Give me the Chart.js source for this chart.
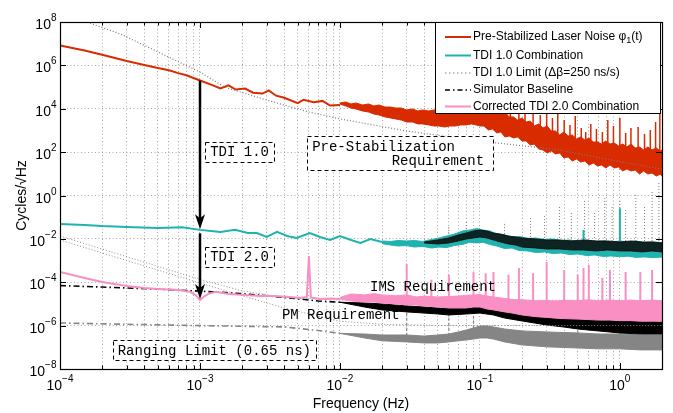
<!DOCTYPE html>
<html>
<head>
<meta charset="utf-8">
<title>Laser noise suppression</title>
<script src="https://cdn.jsdelivr.net/npm/chart.js@4.4.1/dist/chart.umd.min.js"></script>
<style>
  html, body { margin: 0; padding: 0; background: #fff; }
  canvas { display: block; }
</style>
</head>
<body>
<canvas id="noise" width="673" height="413"></canvas>
<script>
// Frequencies in Hz, amplitudes in cycles/sqrt(Hz)

// pre-stabilized laser noise: smooth low-frequency part, then the noisy band
const laserFreq = [1e-4, 1.5e-4, 2e-4, 3e-4, 4e-4, 5e-4, 6e-4, 7e-4, 8e-4, 1e-3, 1.2e-3, 1.4e-3, 1.6e-3, 1.8e-3, 2.1e-3, 2.4e-3, 2.8e-3, 3.1e-3, 3.5e-3, 4e-3, 5e-3, 5.5e-3, 6.5e-3, 7.5e-3, 8.5e-3, 1e-2];
const laserAmp = [8.2e6, 4.8e6, 3.1e6, 1.6e6, 1.05e6, 7.5e5, 6.0e5, 4.4e5, 3.5e5, 2.0e5, 1.3e5, 8.6e4, 1.2e5, 7.7e4, 8.5e4, 5.5e4, 5.0e4, 7.0e4, 4.0e4, 3.2e4, 1.8e4, 2.6e4, 2.0e4, 2.3e4, 1.4e4, 1.5e4];
const laserBandFreq = [1e-2, 1.1e-2, 1.2e-2, 1.3e-2, 1.45e-2, 1.6e-2, 1.75e-2, 1.9e-2, 2.1e-2, 2.3e-2, 2.5e-2, 2.75e-2, 3e-2, 3.3e-2, 3.6e-2, 3.9e-2, 4.3e-2, 4.7e-2, 5.1e-2, 5.6e-2, 6.1e-2, 6.7e-2, 7.3e-2, 8e-2, 8.7e-2, 9.4e-2,
  0.1, 0.107, 0.115, 0.123, 0.132, 0.141, 0.151, 0.162, 0.174, 0.186, 0.2, 0.214, 0.229, 0.245, 0.263, 0.282, 0.302, 0.324, 0.347, 0.372, 0.398, 0.427, 0.457, 0.49, 0.525, 0.562, 0.603, 0.646, 0.692, 0.741, 0.794, 0.851, 0.912, 0.977, 1.047, 1.122, 1.202, 1.288, 1.38, 1.479, 1.585, 1.698, 1.82, 1.95, 2.0];
const laserBandHigh = [1.85e4, 2.05e4, 1.66e4, 1.85e4, 1.49e4, 1.66e4, 1.34e4, 1.49e4, 1.2e4, 1.2e4, 1.08e4, 1.08e4, 8.8e3, 9.8e3, 7.9e3, 8.8e3, 7.9e3, 8.8e3, 8.8e3, 9.8e3, 1.08e4, 1.2e4, 1.34e4, 1.49e4, 1.49e4, 1.66e4,
  1.66e4, 1.2e4, 1.2e4, 7.9e3, 8.8e3, 5.7e3, 7.1e3, 4.2e3, 4.2e3, 3.0e3, 3.75e3, 2.45e3, 2.7e3, 1.6e3, 2.0e3, 1.3e3, 1.6e3, 944, 944, 617, 850, 555, 617, 404, 499, 363, 449, 294, 294, 237, 327, 237, 264, 192, 237, 173, 237, 155, 173, 126, 173, 126, 155, 113, 126];
const laserBandLow = [1.66e4, 1.34e4, 1.08e4, 9.8e3, 7.9e3, 7.1e3, 5.7e3, 5.2e3, 4.2e3, 3.75e3, 3.4e3, 3.0e3, 2.45e3, 2.45e3, 2.0e3, 2.0e3, 1.8e3, 1.6e3, 1.6e3, 1.44e3, 1.6e3, 1.6e3, 1.8e3, 1.8e3, 2.0e3, 1.8e3,
  1.6e3, 1.6e3, 1.05e3, 1.17e3, 762, 850, 499, 555, 449, 499, 327, 327, 213, 237, 140, 126, 91, 113, 82, 91, 54, 60, 39, 48, 35, 39, 25.5, 31.5, 23, 25.5, 18.6, 25.5, 18.6, 20.7, 13.5, 16.7, 13.5, 15.0, 9.8, 13.5, 9.8, 10.9, 7.9, 9.8, 7.9];
const laserSpikeFreq = [0.145, 0.165, 0.19, 0.21, 0.24, 0.27, 0.3, 0.33, 0.36, 0.4, 0.44, 0.48, 0.53, 0.57, 0.62, 0.68, 0.75, 0.82, 0.9, 1.0, 1.1, 1.2, 1.35, 1.5, 1.65, 1.8, 1.93];
const laserSpikeTop = [1.08e4, 7.1e3, 1.66e4, 6.4e3, 8.8e3, 5.2e3, 1.08e4, 3.75e3, 7.1e3, 3.0e3, 1.8e3, 4.6e3, 1.3e3, 850, 2.0e3, 1.17e3, 850, 3.0e3, 1.6e3, 3.75e3, 762, 1.3e3, 1.44e3, 686, 1.05e3, 2.45e3, 1.2e4];
const laserSpikeBase = [2e3, 1.5e3, 1e3, 800, 600, 500, 400, 300, 250, 200, 170, 150, 120, 100, 90, 80, 70, 60, 55, 50, 45, 40, 35, 30, 28, 25, 22];

// pre-stabilization requirement (dotted)
const prestabFreq = [1.3e-4, 2.7e-4, 5e-4, 1e-3, 1.5e-3, 3e-3, 6e-3, 1e-2, 3e-2, 0.1, 0.37, 1, 2];
const prestabAmp = [1.5e8, 2.8e7, 4.2e6, 4.9e5, 1.0e5, 2.5e4, 7.1e3, 3.4e3, 940, 325, 126, 36, 16.6];

// TDI 1.0 combination
const tdi1Freq = [1e-4, 1.5e-4, 2e-4, 3e-4, 5e-4, 7.5e-4, 1e-3, 1.2e-3, 1.4e-3, 1.78e-3, 2.2e-3, 2.55e-3, 3e-3, 3.55e-3, 4.2e-3, 4.9e-3, 6.1e-3, 7.2e-3, 8.5e-3, 1e-2, 1.2e-2, 1.4e-2, 1.65e-2, 2e-2];
const tdi1Amp = [4.9e-2, 4.4e-2, 3.9e-2, 3.5e-2, 3.2e-2, 3.4e-2, 2.6e-2, 2.3e-2, 2.1e-2, 2.6e-2, 1.87e-2, 1.87e-2, 1.22e-2, 2.1e-2, 1.36e-2, 1.1e-2, 1.87e-2, 1.22e-2, 8.9e-3, 1.36e-2, 8.9e-3, 6.5e-3, 9.9e-3, 7.2e-3];
const tdi1BandFreq = [2e-2, 2.3e-2, 2.6e-2, 3e-2, 3.4e-2, 3.9e-2, 4.5e-2, 5.1e-2, 5.8e-2, 6.6e-2, 7.5e-2, 8.5e-2, 9.5e-2, 0.105, 0.118, 0.132, 0.15, 0.17, 0.19, 0.22, 0.25, 0.29, 0.33, 0.38, 0.44, 0.5, 0.58, 0.66, 0.76, 0.87, 1.0, 1.15, 1.3, 1.5, 1.72, 2.0];
const tdi1BandHigh = [8.0e-3, 7.6e-3, 8.4e-3, 8.0e-3, 8.4e-3, 7.6e-3, 9.4e-3, 1.1e-2, 1.36e-2, 1.68e-2, 2.31e-2, 2.57e-2, 3.0e-2, 2.57e-2, 2.31e-2, 1.68e-2, 1.51e-2, 1.22e-2, 1.3e-2, 1.05e-2, 1.1e-2, 9.4e-3, 9.9e-3, 8.4e-3, 8.9e-3, 7.6e-3, 8.9e-3, 7.6e-3, 8.0e-3, 7.2e-3, 8.0e-3, 7.2e-3, 8.0e-3, 6.8e-3, 7.2e-3, 6.8e-3];
const tdi1BandLow = [6.0e-3, 5.2e-3, 4.7e-3, 4.9e-3, 4.2e-3, 4.5e-3, 3.8e-3, 4.2e-3, 4.0e-3, 5.0e-3, 5.5e-3, 7.0e-3, 6.5e-3, 7.0e-3, 5.5e-3, 4.7e-3, 3.6e-3, 3.8e-3, 2.9e-3, 2.77e-3, 2.35e-3, 2.49e-3, 2.1e-3, 2.24e-3, 1.9e-3, 2.0e-3, 1.7e-3, 1.81e-3, 1.55e-3, 1.63e-3, 1.5e-3, 1.6e-3, 1.4e-3, 1.47e-3, 1.37e-3, 1.45e-3];
const tdi1SpikeFreq = [0.55, 1.0];
const tdi1SpikeTop = [2.6e-2, 0.26];
const tdi1SpikeBase = [4e-3, 4e-3];

// TDI 1.0 limit for a 250 ns/s arm-length rate mismatch
const limitBandFreq = [4e-2, 5e-2, 6e-2, 7e-2, 8e-2, 9e-2, 0.1, 0.112, 0.125, 0.14, 0.16, 0.18, 0.2, 0.25, 0.3, 0.37, 0.45, 0.55, 0.68, 0.82, 1.0, 1.2, 1.45, 1.7, 2.0];
const limitBandHigh = [7.2e-3, 8.9e-3, 1.1e-2, 1.51e-2, 1.87e-2, 2.31e-2, 2.57e-2, 2.31e-2, 1.87e-2, 1.68e-2, 1.36e-2, 1.22e-2, 1.1e-2, 9.9e-3, 8.9e-3, 8.9e-3, 8.0e-3, 8.9e-3, 8.0e-3, 8.0e-3, 7.2e-3, 8.0e-3, 7.2e-3, 7.2e-3, 6.5e-3];
const limitBandLow = [6.5e-3, 5.8e-3, 6.5e-3, 8.0e-3, 9.9e-3, 1.1e-2, 1.22e-2, 1.1e-2, 8.9e-3, 7.2e-3, 5.8e-3, 5.2e-3, 4.2e-3, 3.8e-3, 3.42e-3, 3.42e-3, 3.08e-3, 3.08e-3, 2.77e-3, 3.08e-3, 2.77e-3, 2.77e-3, 2.49e-3, 2.77e-3, 2.49e-3];
const limitSpikeFreq = [6e-2, 8e-2, 0.15, 0.23, 0.29, 0.37, 0.45, 0.56, 0.66, 0.78, 0.88, 1.0, 1.1, 1.3, 1.5, 1.7, 1.9];
const limitSpikeTop = [4.4e-2, 7.4e-2, 6.0e-2, 9.2e-2, 0.126, 0.37, 0.17, 0.62, 0.17, 0.77, 0.37, 0.62, 0.21, 1.06, 0.37, 1.8, 3.8];
const limitSpikeBase = [1.2e-2, 1.5e-2, 1.2e-2, 9e-3, 8e-3, 8e-3, 8e-3, 8e-3, 8e-3, 8e-3, 8e-3, 8e-3, 8e-3, 8e-3, 8e-3, 8e-3, 8e-3];

// IMS and proof-mass requirements (dotted)
const imsFreq = [1e-4, 3e-4, 1e-3, 2e-3, 4e-3, 1e-2, 2];
const imsAmp = [1.36e-2, 1.5e-3, 1.35e-4, 4e-5, 2e-5, 1.5e-5, 1.45e-5];
const pmFreq = [1e-4, 3e-4, 1e-3, 2e-3, 4e-3, 1e-2, 2e-2, 5e-2, 2];
const pmAmp = [8.9e-3, 1.0e-3, 9.3e-5, 2.4e-5, 6.5e-6, 1.6e-6, 1.15e-6, 1.02e-6, 1.0e-6];

// corrected TDI 2.0 combination
const tdi2Freq = [1e-4, 1.5e-4, 2e-4, 3e-4, 4e-4, 5e-4, 7e-4, 8.5e-4, 9.3e-4, 1e-3, 1.07e-3, 1.15e-3, 1.3e-3, 1.6e-3, 2.1e-3, 2.7e-3, 3.4e-3, 4.4e-3, 5.2e-3, 5.8e-3, 6.0e-3, 6.2e-3, 7.2e-3, 8.5e-3, 1e-2];
const tdi2Amp = [3.0e-4, 1.57e-4, 1.03e-4, 6.7e-5, 5.4e-5, 4.9e-5, 4.4e-5, 3.6e-5, 2.6e-5, 1.5e-5, 2.2e-5, 2.9e-5, 3.6e-5, 2.9e-5, 2.6e-5, 2.3e-5, 2.3e-5, 2.1e-5, 1.9e-5, 2.1e-5, 1.63e-3, 2.0e-5, 1.7e-5, 1.8e-5, 1.7e-5];
const tdi2BandFreq = [1e-2, 1.2e-2, 1.5e-2, 1.75e-2, 2e-2, 2.5e-2, 3e-2, 3.5e-2, 4e-2, 5e-2, 6e-2, 7e-2, 8e-2, 9e-2, 0.1, 0.112, 0.125, 0.15, 0.17, 0.2, 0.25, 0.3, 0.35, 0.4, 0.5, 0.6, 0.7, 0.85, 1.0, 1.2, 1.4, 1.7, 2.0];
const tdi2BandHigh = [2.0e-5, 2.9e-5, 2.6e-5, 3.0e-5, 2.6e-5, 2.4e-5, 2.6e-5, 2.1e-5, 2.3e-5, 2.1e-5, 2.2e-5, 2.3e-5, 2.5e-5, 2.6e-5, 2.7e-5, 2.3e-5, 2.1e-5, 1.8e-5, 1.6e-5, 1.55e-5, 1.4e-5, 1.45e-5, 1.35e-5, 1.5e-5, 1.4e-5, 1.55e-5, 1.4e-5, 1.5e-5, 1.4e-5, 1.5e-5, 1.4e-5, 1.5e-5, 1.4e-5];
const tdi2BandLow = [1.7e-5, 1.37e-5, 1.23e-5, 1.23e-5, 1.11e-5, 1.0e-5, 9.0e-6, 9.0e-6, 8.1e-6, 7.2e-6, 6.5e-6, 6.5e-6, 6.5e-6, 7.2e-6, 7.2e-6, 5.9e-6, 5.3e-6, 4.3e-6, 3.8e-6, 3.1e-6, 2.6e-6, 2.4e-6, 2.2e-6, 2.1e-6, 2.0e-6, 1.9e-6, 1.8e-6, 1.8e-6, 1.7e-6, 1.7e-6, 1.6e-6, 1.6e-6, 1.6e-6];
const tdi2SpikeFreq = [3e-2, 4.5e-2, 6e-2, 9e-2, 0.11, 0.125, 0.16, 0.19, 0.24, 0.3, 0.4, 0.5, 0.55, 0.6, 0.75, 0.85, 1.1, 1.4, 1.7];
const tdi2SpikeTop = [7.0e-4, 1.3e-4, 2.2e-4, 3.0e-4, 2.6e-4, 3.0e-4, 2.2e-4, 4.6e-4, 2.6e-4, 8.6e-4, 3.7e-4, 2.2e-4, 4.6e-4, 6.3e-4, 1.6e-4, 3.7e-4, 3.0e-4, 3.0e-4, 3.7e-4];
const tdi2SpikeBase = [1.5e-5, 1.5e-5, 1.5e-5, 1.5e-5, 1.5e-5, 1.5e-5, 1.2e-5, 1.2e-5, 1e-5, 1e-5, 1e-5, 1e-5, 1e-5, 1e-5, 1e-5, 1e-5, 1e-5, 1e-5, 1e-5];

// simulator baseline (black dash-dot)
const baseFreq = [1e-4, 2e-4, 5e-4, 1e-3, 2e-3, 4e-3, 7e-3, 1e-2];
const baseAmp = [7.0e-5, 6.0e-5, 4.8e-5, 3.9e-5, 3.0e-5, 2.0e-5, 1.37e-5, 1.2e-5];
const baseBandFreq = [1e-2, 1.5e-2, 2e-2, 3e-2, 4e-2, 5e-2, 6e-2, 8e-2, 0.1, 0.125, 0.15, 0.2, 0.3, 0.4, 0.5, 0.7, 1.0, 1.4, 2.0];
const baseBandHigh = [1.2e-5, 1.11e-5, 1.0e-5, 8.1e-6, 7.2e-6, 6.5e-6, 6.5e-6, 7.2e-6, 8.1e-6, 7.2e-6, 5.9e-6, 4.3e-6, 3.1e-6, 2.5e-6, 2.25e-6, 1.82e-6, 1.64e-6, 1.64e-6, 1.48e-6];
const baseBandLow = [1.2e-5, 7.2e-6, 5.3e-6, 4.3e-6, 3.8e-6, 3.45e-6, 3.1e-6, 3.45e-6, 3.8e-6, 3.1e-6, 2.25e-6, 1.64e-6, 1.07e-6, 8.6e-7, 7.0e-7, 5.7e-7, 4.6e-7, 4.1e-7, 4.1e-7];

// ranging limit, 0.65 ns (grey dash-dot)
const rangeFreq = [1e-4, 3e-4, 1e-3, 4e-3, 7e-3, 1e-2];
const rangeAmp = [1.33e-6, 1.15e-6, 1.0e-6, 8.7e-7, 6.0e-7, 4.4e-7];
const rangeBandFreq = [1e-2, 1.5e-2, 2e-2, 3e-2, 4e-2, 5e-2, 6e-2, 7e-2, 8e-2, 9e-2, 0.1, 0.112, 0.125, 0.15, 0.2, 0.3, 0.5, 0.7, 1.0, 1.4, 2.0];
const rangeBandHigh = [4.4e-7, 4.1e-7, 3.7e-7, 3.7e-7, 3.3e-7, 3.7e-7, 4.1e-7, 5.1e-7, 6.3e-7, 7.8e-7, 9.6e-7, 9.6e-7, 8.7e-7, 7.0e-7, 5.7e-7, 5.1e-7, 4.6e-7, 4.1e-7, 4.1e-7, 3.7e-7, 3.7e-7];
const rangeBandLow = [4.4e-7, 2.7e-7, 2.0e-7, 1.77e-7, 1.59e-7, 1.59e-7, 1.77e-7, 2.0e-7, 2.2e-7, 2.4e-7, 2.7e-7, 2.7e-7, 2.4e-7, 1.77e-7, 1.29e-7, 1.05e-7, 9.3e-8, 8.5e-8, 8.5e-8, 7.6e-8, 7.6e-8];
const rangeSpikeFreq = [3e-2, 6e-2, 9e-2, 0.5, 1.0];
const rangeSpikeTop = [2.3e-5, 3.1e-6, 5.3e-6, 9e-6, 1.5e-5];
const rangeSpikeBase = [2e-7, 2e-7, 2.5e-7, 1.5e-7, 1.2e-7];

// axis decades and their exponent labels
const xDecades = [1e-4, 1e-3, 1e-2, 1e-1, 1];
const xExpLabels = ['\u22124', '\u22123', '\u22122', '\u22121', '0'];
const yDecades = [1e-8, 1e-6, 1e-4, 1e-2, 1, 1e2, 1e4, 1e6, 1e8];
const yExpLabels = ['\u22128', '\u22126', '\u22124', '\u22122', '0', '2', '4', '6', '8'];

const SANS = '"Liberation Sans", Arial, Helvetica, sans-serif';
const MONO = '"Liberation Mono", "Courier New", monospace';

const RED = '#d92b00';
const TEAL = '#1fb3b0';
const PINK = '#f98fc3';
const GREY = '#858585';
const DOT = '#8c8c8c';

const xy = (fs, vs) => fs.map((f, i) => ({ x: f, y: vs[i] }));
// one vertical segment per spike, broken with null points
const spikes = (fs, lo, hi) => fs.flatMap((f, i) => [{ x: f, y: lo[i] }, { x: f, y: hi[i] }, { x: f, y: null }]);

function line(data, color, width, dash, order, extra) {
  return Object.assign({
    data, borderColor: color, backgroundColor: color, borderWidth: width,
    borderDash: dash || [], pointRadius: 0, fill: false, tension: 0,
    spanGaps: false, order
  }, extra || {});
}

const datasets = [];
// band = upper edge + lower edge filled back to the upper one
function band(fs, hi, lo, color, order, extra) {
  datasets.push(line(xy(fs, hi), color, 1, [], order, extra));
  datasets.push(line(xy(fs, lo), color, 1, [], order, { fill: '-1' }));
}

// ranging limit
datasets.push(line(xy(rangeFreq, rangeAmp), GREY, 1.6, [6, 3, 1.5, 3], 90));
band(rangeBandFreq, rangeBandHigh, rangeBandLow, GREY, 90);
datasets.push(line(spikes(rangeSpikeFreq, rangeSpikeBase, rangeSpikeTop), GREY, 1.2, [3, 2], 90));

// simulator baseline
datasets.push(line(xy(baseFreq, baseAmp), '#000', 1.6, [6, 3, 1.5, 3], 80,
  { label: 'Simulator Baseline', legendDash: [5, 3, 1.5, 3], legendRank: 3 }));
band(baseBandFreq, baseBandHigh, baseBandLow, '#000', 80);

// requirements
datasets.push(line(xy(imsFreq, imsAmp), DOT, 1, [1, 2], 75));
datasets.push(line(xy(pmFreq, pmAmp), DOT, 1, [1, 2], 75));

// corrected TDI 2.0
datasets.push(line(xy(tdi2Freq, tdi2Amp), PINK, 2, [], 70,
  { label: 'Corrected TDI 2.0 Combination', legendRank: 4 }));
band(tdi2BandFreq, tdi2BandHigh, tdi2BandLow, PINK, 70);
datasets.push(line(spikes(tdi2SpikeFreq, tdi2SpikeBase, tdi2SpikeTop), PINK, 2, [], 70));

// TDI 1.0
datasets.push(line(xy(tdi1Freq, tdi1Amp), TEAL, 2, [], 60,
  { label: 'TDI 1.0 Combination', legendRank: 1 }));
band(tdi1BandFreq, tdi1BandHigh, tdi1BandLow, TEAL, 60);
datasets.push(line(spikes(tdi1SpikeFreq, tdi1SpikeBase, tdi1SpikeTop), TEAL, 2, [], 60));

// TDI 1.0 limit
band(limitBandFreq, limitBandHigh, limitBandLow, 'rgba(10,10,10,0.85)', 50,
  { label: 'TDI 1.0 Limit (\u0394\u03b2=250 ns/s)', legendRank: 2, legendColor: '#aaa', legendDash: [1.5, 2.5] });
datasets.push(line(spikes(limitSpikeFreq, limitSpikeBase, limitSpikeTop), '#777', 1, [1, 2], 50));

// laser noise
datasets.push(line(xy(laserFreq, laserAmp), RED, 2, [], 40,
  { label: 'Pre-Stabilized Laser Noise \u03c6', legendRank: 0 }));
band(laserBandFreq, laserBandHigh, laserBandLow, RED, 40);
datasets.push(line(spikes(laserSpikeFreq, laserSpikeBase, laserSpikeTop), RED, 1.5, [], 40));

// pre-stabilization requirement
datasets.push(line(xy(prestabFreq, prestabAmp), '#7a7a7a', 1.2, [1, 2], 30));

// text boxes, anchored in data coordinates (left edge, vertical centre)
const notes = [
  { lines: ['TDI 1.0'], f: 1.09e-3, v: 105, box: true },
  { lines: ['TDI 2.0'], f: 1.09e-3, v: 1.5e-3, box: true },
  { lines: ['Pre-Stabilization', 'Requirement'], f: 5.83e-3, v: 91, box: true, rightSecond: true },
  { lines: ['IMS Requirement'], f: 1.64e-2, v: 5.9e-5, box: false },
  { lines: ['PM Requirement'], f: 3.85e-3, v: 3.1e-6, box: false },
  { lines: ['Ranging Limit (0.65 ns)'], f: 2.38e-4, v: 7.5e-8, box: true }
];
// arrows at 1 mHz: laser noise -> TDI 1.0 -> TDI 2.0
const arrowFreq = 1e-3;
const arrowFrom = [2.0e5, 1.8e-2];
const arrowTo = [2.8e-2, 1.7e-5];

const minorSteps = [2, 3, 4, 5, 6, 7, 8, 9];
const xGrid = [];
xDecades.forEach(d => {
  xGrid.push(d);
  minorSteps.forEach(m => { if (d * m <= 2.0001) xGrid.push(d * m); });
});

function drawPow(ctx, exp, x, y, align) {
  ctx.font = '14px ' + SANS;
  const wBase = ctx.measureText('10').width;
  ctx.font = '10px ' + SANS;
  const wExp = ctx.measureText(exp).width;
  const left = align === 'center' ? x - (wBase + wExp) / 2 : x - wBase - wExp;
  ctx.textAlign = 'left';
  ctx.textBaseline = 'alphabetic';
  ctx.font = '14px ' + SANS;
  ctx.fillText('10', left, y);
  ctx.font = '10px ' + SANS;
  ctx.fillText(exp, left + wBase, y - 8);
}

const decor = {
  id: 'decor',
  afterDraw(chart) {
    const { ctx, chartArea: a, scales: { x, y } } = chart;
    ctx.save();
    ctx.fillStyle = '#000';
    ctx.strokeStyle = '#000';

    // inward ticks
    ctx.lineWidth = 1;
    ctx.beginPath();
    xGrid.forEach(v => {
      const px = Math.round(x.getPixelForValue(v)) + 0.5;
      const len = xDecades.includes(v) ? 6 : 3.5;
      ctx.moveTo(px, a.bottom); ctx.lineTo(px, a.bottom - len);
      ctx.moveTo(px, a.top); ctx.lineTo(px, a.top + len);
    });
    yDecades.forEach(v => {
      const py = Math.round(y.getPixelForValue(v)) + 0.5;
      ctx.moveTo(a.left, py); ctx.lineTo(a.left + 6, py);
      ctx.moveTo(a.right, py); ctx.lineTo(a.right - 6, py);
    });
    ctx.stroke();

    // frame
    ctx.lineWidth = 1.2;
    ctx.strokeRect(Math.round(a.left) + 0.5, Math.round(a.top) + 0.5,
      Math.round(a.right - a.left), Math.round(a.bottom - a.top));

    // tick labels
    xDecades.forEach((v, i) => drawPow(ctx, xExpLabels[i], x.getPixelForValue(v), a.bottom + 21, 'center'));
    yDecades.forEach((v, i) => drawPow(ctx, yExpLabels[i], a.left - 3.5, y.getPixelForValue(v) + 7, 'right'));

    // axis titles
    ctx.font = '14px ' + SANS;
    ctx.textAlign = 'center';
    ctx.textBaseline = 'alphabetic';
    ctx.fillText('Frequency (Hz)', (a.left + a.right) / 2, a.bottom + 39);
    ctx.save();
    ctx.translate(26, (a.top + a.bottom) / 2);
    ctx.rotate(-Math.PI / 2);
    ctx.fillText('Cycles/\u221aHz', 0, 0);
    ctx.restore();

    // arrows
    ctx.lineWidth = 2.5;
    const ax = Math.round(x.getPixelForValue(arrowFreq));
    arrowFrom.forEach((v, i) => {
      const y0 = y.getPixelForValue(v);
      const y1 = y.getPixelForValue(arrowTo[i]);
      ctx.beginPath(); ctx.moveTo(ax, y0); ctx.lineTo(ax, y1 - 10); ctx.stroke();
      ctx.beginPath();
      ctx.moveTo(ax - 5, y1 - 15); ctx.lineTo(ax, y1); ctx.lineTo(ax + 5, y1 - 15);
      ctx.lineTo(ax, y1 - 11); ctx.closePath(); ctx.fill();
    });

    // text notes
    ctx.font = '14px ' + MONO;
    ctx.textBaseline = 'middle';
    notes.forEach(n => {
      const lx = x.getPixelForValue(n.f);
      const cy = y.getPixelForValue(n.v);
      const widths = n.lines.map(s => ctx.measureText(s).width);
      const w = Math.max(...widths);
      const lh = 14;
      const top = cy - (n.lines.length * lh) / 2;
      if (n.box) {
        const bx = Math.round(lx) + 0.5, by = Math.round(top - 3) + 0.5;
        const bw = Math.round(w + 10 + (n.rightSecond ? 33 : 0));
        const bh = Math.round(n.lines.length * lh + 6);
        ctx.fillStyle = '#fff';
        ctx.fillRect(bx, by, bw, bh);
        ctx.setLineDash([4, 3]);
        ctx.lineWidth = 1;
        ctx.strokeRect(bx, by, bw, bh);
        ctx.setLineDash([]);
        ctx.fillStyle = '#000';
        n.lines.forEach((s, i) => {
          ctx.textAlign = 'left';
          let tx = lx + 5;
          if (n.rightSecond && i === 1) tx = lx + bw - 9 - widths[i];
          ctx.fillText(s, tx, top + lh * i + lh / 2 + 1);
        });
      } else {
        ctx.fillStyle = '#000';
        ctx.textAlign = 'left';
        ctx.fillText(n.lines[0], lx, cy);
      }
    });

    // legend
    const items = chart.data.datasets.filter(d => d.label).sort((p, q) => p.legendRank - q.legendRank);
    const lx0 = 435.5, ly0 = a.top + 0.5, lw = 225, lh0 = 91;
    ctx.fillStyle = '#fff';
    ctx.fillRect(lx0, ly0, lw, lh0);
    ctx.lineWidth = 1;
    ctx.strokeStyle = '#000';
    ctx.strokeRect(lx0, ly0, lw, lh0);
    const rows = [37, 55.5, 73, 90, 106.5];
    items.forEach((d, i) => {
      const ry = rows[i];
      ctx.strokeStyle = d.legendColor || d.borderColor;
      ctx.lineWidth = d.legendRank === 2 ? 1.5 : Math.max(d.borderWidth, 1.5);
      ctx.setLineDash(d.legendDash || d.borderDash || []);
      ctx.beginPath(); ctx.moveTo(445, ry); ctx.lineTo(471, ry); ctx.stroke();
      ctx.setLineDash([]);
      ctx.fillStyle = '#000';
      ctx.font = '12px ' + SANS;
      ctx.textAlign = 'left';
      ctx.textBaseline = 'middle';
      ctx.fillText(d.label, 473, ry);
      if (d.legendRank === 0) {
        const w0 = ctx.measureText(d.label).width;
        ctx.font = '9px ' + SANS;
        ctx.fillText('1', 473 + w0, ry + 4);
        const w1 = ctx.measureText('1').width;
        ctx.font = '12px ' + SANS;
        ctx.fillText('(t)', 473 + w0 + w1, ry);
      }
    });
    ctx.restore();
  }
};

new Chart(document.getElementById('noise'), {
  type: 'line',
  data: { datasets },
  options: {
    responsive: false,
    animation: false,
    events: [],
    layout: { padding: { top: 22, right: 11, left: 0, bottom: 0 } },
    plugins: { legend: { display: false }, tooltip: { enabled: false } },
    scales: {
      x: {
        type: 'logarithmic', min: 1e-4, max: 2,
        afterBuildTicks: s => { s.ticks = xGrid.map(v => ({ value: v })); },
        afterFit: s => { s.height = 44; },
        ticks: { display: false },
        grid: { color: '#a8a8a8', lineWidth: 1, drawTicks: false },
        border: { display: false, dash: [1, 2.5] }
      },
      y: {
        type: 'logarithmic', min: 1e-8, max: 1e8,
        afterBuildTicks: s => { s.ticks = yDecades.map(v => ({ value: v })); },
        afterFit: s => { s.width = 60; },
        ticks: { display: false },
        grid: { color: '#a8a8a8', lineWidth: 1, drawTicks: false },
        border: { display: false, dash: [1, 2.5] }
      }
    }
  },
  plugins: [decor]
});
</script>
</body>
</html>
